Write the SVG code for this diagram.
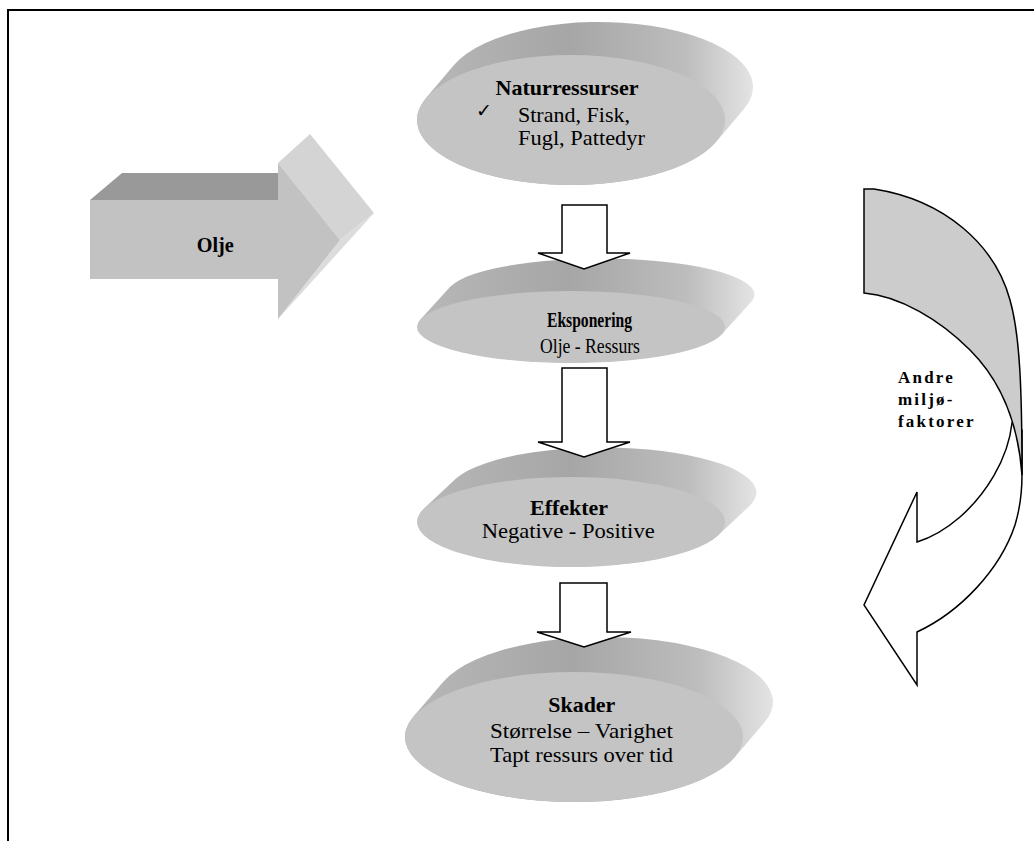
<svg xmlns="http://www.w3.org/2000/svg" width="1034" height="841" viewBox="0 0 1034 841">
<defs>
<linearGradient id="side" x1="0" y1="0" x2="1" y2="0">
<stop offset="0" stop-color="#b8b8b8"/>
<stop offset="0.45" stop-color="#a6a6a6"/>
<stop offset="0.8" stop-color="#bdbdbd"/>
<stop offset="1" stop-color="#e4e4e4"/>
</linearGradient>
<style>
.side{fill:url(#side);}
.face{fill:#c4c4c4;}
.t{font-family:"Liberation Serif","Times New Roman",serif;font-size:21px;fill:#000;}
.b{font-weight:bold;}
.blk{fill:#fff;stroke:#000;stroke-width:1.5;stroke-linejoin:miter;}
.lab{font-family:"Liberation Serif","Times New Roman",serif;font-size:17px;font-weight:bold;letter-spacing:2.2px;fill:#000;}
</style>
</defs>
<rect x="0" y="0" width="1034" height="841" fill="#fff"/>
<path d="M8,841 L8,10 L1034,10" fill="none" stroke="#000" stroke-width="2"/>

<g id="olje">
<path d="M90,200 L122,173 L278,173 L278,200 Z" fill="#999999"/>
<path d="M278,163 L310,134 L374,213 L340,240 Z" fill="#d4d4d4"/>
<path d="M340,240 L374,213 L278,319 Z" fill="#dcdcdc"/>
<path d="M90,200 L278,200 L278,163 L340,240 L278,319 L278,279 L90,279 Z" fill="#c2c2c2"/>
<text class="t b" x="196.7" y="252" textLength="37" lengthAdjust="spacingAndGlyphs">Olje</text>
</g>

<g id="naturressurser">
<path class="side" d="M426,98.1 L454,65.1 A154,65 0 0 1 744,108.9 L716,141.9 A154,65 0 0 1 426,98.1 Z"/>
<ellipse class="face" cx="571" cy="120" rx="154" ry="65"/>
<text class="t b" x="495.5" y="95" textLength="143" lengthAdjust="spacingAndGlyphs">Naturressurser</text>
<text x="476" y="117" font-family="DejaVu Sans, sans-serif" font-size="19">✓</text>
<text class="t" x="518" y="122" textLength="112" lengthAdjust="spacingAndGlyphs">Strand, Fisk,</text>
<text class="t" x="518" y="145" textLength="127" lengthAdjust="spacingAndGlyphs">Fugl, Pattedyr</text>
</g>

<g id="eksponering">
<path class="side" d="M420.4,319.5 L450.4,286.5 A154,36 0 0 1 751.6,301.5 L721.6,334.5 A154,36 0 0 1 420.4,319.5 Z"/>
<ellipse class="face" cx="571" cy="327" rx="154" ry="36"/>
<text class="t b" x="547" y="327" font-size="18" textLength="85" lengthAdjust="spacingAndGlyphs">Eksponering</text>
<text class="t" x="540" y="353" font-size="18" textLength="100" lengthAdjust="spacingAndGlyphs">Olje - Ressurs</text>
</g>

<g id="effekter">
<path class="side" d="M424,508.6 L456,478.6 A154,45 0 0 1 750,505.4 L718,535.4 A154,45 0 0 1 424,508.6 Z"/>
<ellipse class="face" cx="571" cy="522" rx="154" ry="45"/>
<text class="t b" x="530" y="515" textLength="78" lengthAdjust="spacingAndGlyphs">Effekter</text>
<text class="t" x="481.7" y="538" textLength="173" lengthAdjust="spacingAndGlyphs">Negative - Positive</text>
</g>

<g id="skader">
<path class="side" d="M413.5,716.6 L443.5,681.6 A169,65 0 0 1 764.5,722.4 L734.5,757.4 A169,65 0 0 1 413.5,716.6 Z"/>
<ellipse class="face" cx="574" cy="737" rx="169" ry="65"/>
<text class="t b" x="548.3" y="712" textLength="67" lengthAdjust="spacingAndGlyphs">Skader</text>
<text class="t" x="490" y="738" textLength="183" lengthAdjust="spacingAndGlyphs">Størrelse – Varighet</text>
<text class="t" x="490" y="762" textLength="183" lengthAdjust="spacingAndGlyphs">Tapt ressurs over tid</text>
</g>

<g id="andre-miljofaktorer">
<path d="M1012,423 C1008,460 985,495 960,517 C945,530 930,538 917,542 L917,492 L864,605 L917,685 L917,632 C960,612 1000,570 1015,525 C1021,505 1022,490 1022,475 L1022,430 Z" fill="#fff" stroke="#000" stroke-width="1.5" stroke-linejoin="miter"/>
<path d="M864,189 L874,189 C945,200 995,245 1010,300 C1020,335 1022,390 1022,475 C1018,420 1000,380 970,350 C940,320 900,296 864,293 Z" fill="#cccccc" stroke="#000" stroke-width="1.5"/>
<text class="lab" x="898" y="383">Andre</text>
<text class="lab" x="898" y="405">miljø-</text>
<text class="lab" x="898" y="427">faktorer</text>
</g>

<g id="connectors">
<path class="blk" d="M562,205 L607,205 L607,253 L630,253 L584,269 L538,253 L562,253 Z"/>
<path class="blk" d="M562,368 L607,368 L607,442 L630,442 L584,457 L538,442 L562,442 Z"/>
<path class="blk" d="M560,583 L607,583 L607,632 L631,632 L584,647 L537,632 L560,632 Z"/>
</g>
</svg>
